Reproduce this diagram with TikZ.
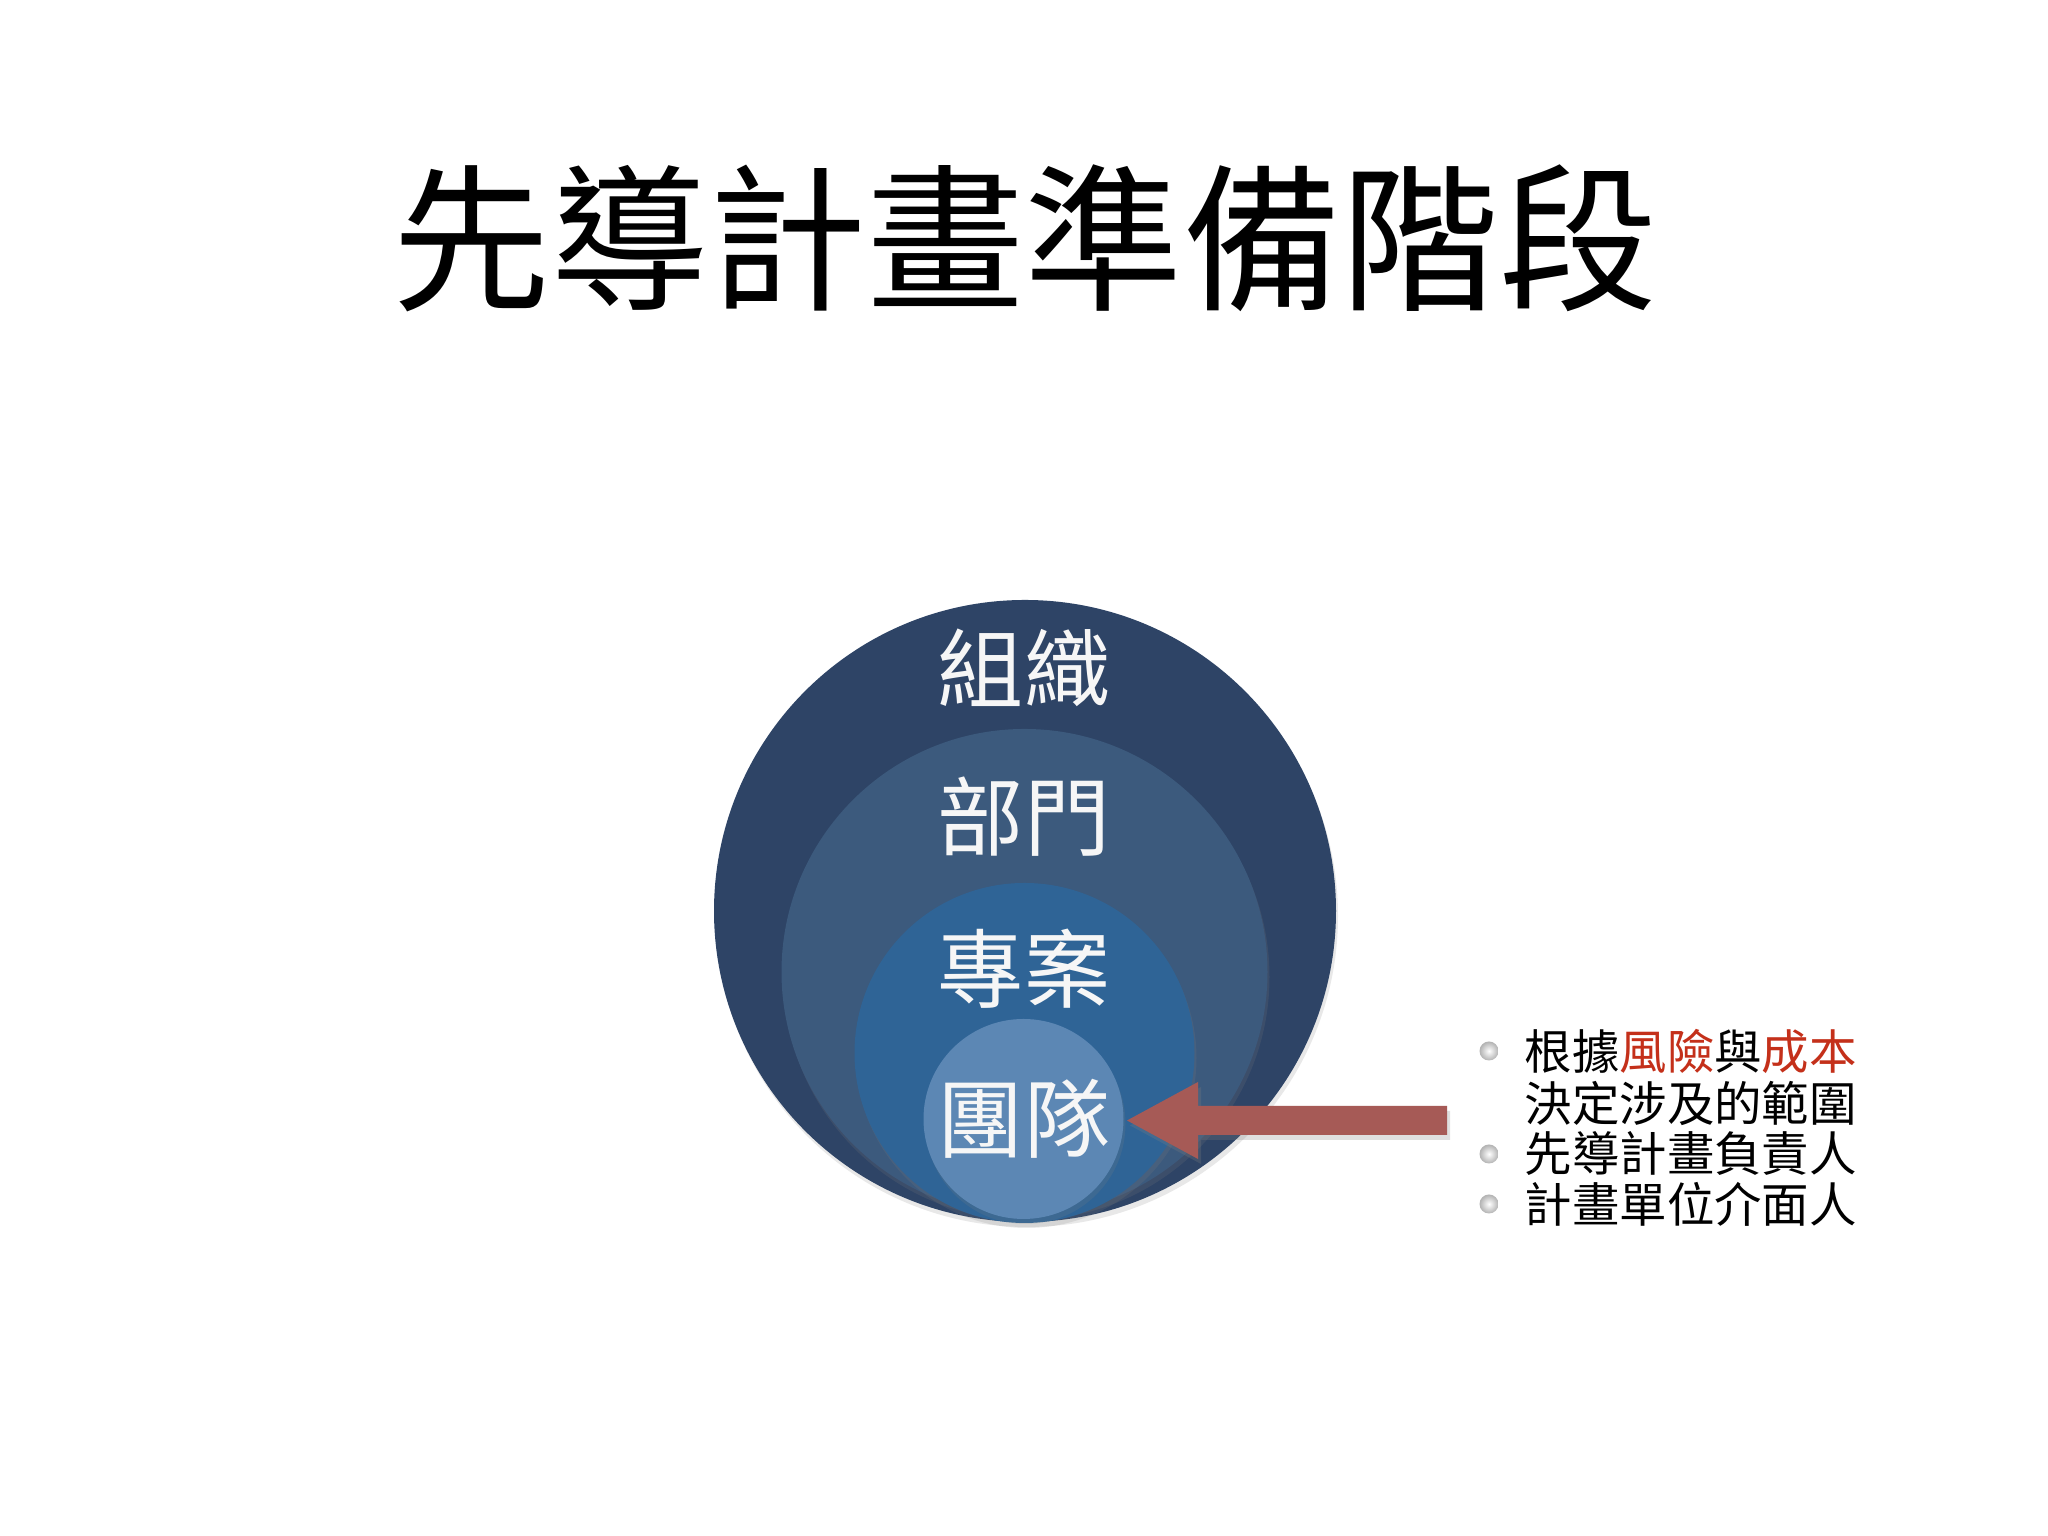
\documentclass[tikz,border=0pt]{standalone}
\usepackage{fontspec}
\newfontfamily\cjk{Noto Sans CJK TC}
\usetikzlibrary{shadows}
\definecolor{ringA}{RGB}{46,68,102}
\definecolor{ringB}{RGB}{60,90,125}
\definecolor{ringC}{RGB}{47,100,150}
\definecolor{ringD}{RGB}{92,135,180}
\definecolor{arrowred}{RGB}{166,90,86}
\definecolor{accentred}{RGB}{196,48,26}
\definecolor{labelwhite}{RGB}{246,246,246}
\tikzset{
  ring/.style={circle, inner sep=0pt, draw=none,
    drop shadow={opacity=0.18, shadow xshift=0.02cm, shadow yshift=-0.05cm}},
  ringlabel/.style={font=\cjk\fontsize{24.5pt}{26pt}\selectfont, text=labelwhite, inner sep=0pt},
  titletext/.style={font=\cjk\fontsize{45pt}{48pt}\selectfont, text=black, inner sep=0pt},
  bullettext/.style={font=\cjk\fontsize{13.5pt}{14pt}\selectfont, text=black, anchor=west, inner sep=0pt},
  bulletdot/.style={circle, inner sep=0pt, minimum size=0.19cm, shading=radial,
    inner color=white, outer color=black!30},
  blockarrow/.style={fill=arrowred,
    drop shadow={opacity=0.25, shadow xshift=0.03cm, shadow yshift=-0.05cm}}
}
\begin{document}
\begin{tikzpicture}
\useasboundingbox[fill=white] (0,0) rectangle (20.48,15.36);

% title
\node[titletext] (title) at (10.25,12.98) {先導計畫準備階段};

% nested circles
\node[ring, fill=ringA, minimum size=6.22cm] (org)  at (10.25,6.25) {};
\node[ring, fill=ringB, minimum size=4.86cm] (dept) at (10.245,5.64) {};
\node[ring, fill=ringC, minimum size=3.40cm] (proj) at (10.245,4.83) {};
\node[ring, fill=ringD, minimum size=2.00cm] (team) at (10.235,4.17) {};

% circle labels
\node[ringlabel] (lorg)  at (10.24,8.68) {組織};
\node[ringlabel] (ldept) at (10.24,7.19) {部門};
\node[ringlabel] (lproj) at (10.24,5.67) {專案};
\node[ringlabel] (lteam) at (10.24,4.17) {團隊};

% block arrow pointing at the team circle
\coordinate (tail) at (14.47,4.155);
\coordinate (tip) at (11.27,4.155);
\fill[blockarrow] (tail |- 0,4.30) -- (11.98,4.30) -- (11.98,4.54) -- (tip)
  -- (11.98,3.77) -- (11.98,4.01) -- (tail |- 0,4.01) -- cycle;

% bullet list
\node[bulletdot] (b1) at (14.89,4.85) {};
\node[bulletdot] (b3) at (14.89,3.82) {};
\node[bulletdot] (b4) at (14.89,3.32) {};
\node[bullettext] (t1) at (15.24,4.85) {根據{\color{accentred}風險}與{\color{accentred}成本}};
\node[bullettext] (t2) at (15.24,4.33) {決定涉及的範圍};
\node[bullettext] (t3) at (15.24,3.82) {先導計畫負責人};
\node[bullettext] (t4) at (15.24,3.32) {計畫單位介面人};
\end{tikzpicture}
\end{document}
